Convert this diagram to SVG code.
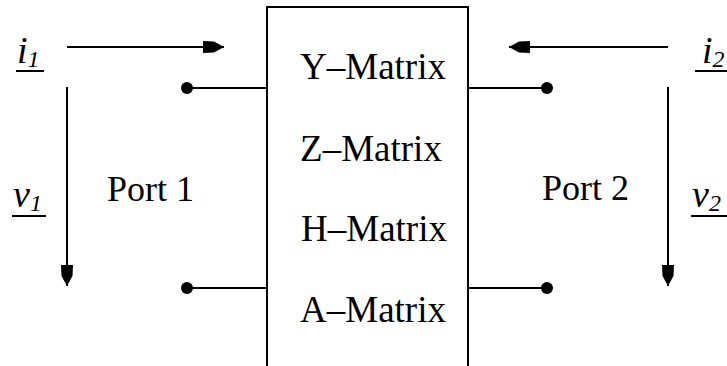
<svg xmlns="http://www.w3.org/2000/svg" width="727" height="366" viewBox="0 0 727 366">
<style>
.ln{stroke:#000;stroke-width:2;fill:none}
.mt{font-family:"Liberation Serif","DejaVu Serif","Times New Roman",serif;font-size:37px;fill:#000;text-anchor:middle}
.pt{font-family:"Liberation Serif","DejaVu Serif","Times New Roman",serif;font-size:36px;fill:#000}
.var{font-family:"Liberation Serif","DejaVu Serif","Times New Roman",serif;font-style:italic;font-size:38px;fill:#000}
.sub{font-size:24px}
.dot{fill:#000}
</style>
<defs>
<marker id="ah" markerUnits="userSpaceOnUse" markerWidth="24" markerHeight="14" refX="21" refY="7" orient="auto">
<path d="M0,1 L11,1.5 L21,7 L11,12.5 L0,13 z" fill="#000"/>
</marker>
</defs>
<rect width="727" height="366" fill="#fff"/>
<g id="network">
<path class="ln" d="M267,370 V7 H468 V370"/>
<text class="mt" x="373" y="79">Y–Matrix</text>
<text class="mt" x="371" y="161">Z–Matrix</text>
<text class="mt" x="374" y="241">H–Matrix</text>
<text class="mt" x="373" y="322">A–Matrix</text>
</g>
<g id="port1"><text class="pt" x="107" y="201">Port 1</text></g>
<g id="port2"><text class="pt" x="542" y="200">Port 2</text></g>
<g id="terminals">
<circle class="dot" cx="187" cy="88" r="6"/>
<circle class="dot" cx="187" cy="288" r="6"/>
<circle class="dot" cx="547" cy="88" r="6"/>
<circle class="dot" cx="547" cy="288" r="6"/>
</g>
<g id="label-i1"><text class="var" x="17" y="63">i<tspan class="sub" dy="4">1</tspan></text><line class="ln" x1="16" y1="71" x2="44" y2="71"/></g>
<g id="label-v1"><text class="var" x="13" y="207">v<tspan class="sub" dy="4">1</tspan></text><line class="ln" x1="12" y1="216" x2="46" y2="216"/></g>
<g id="label-i2"><text class="var" x="702" y="63">i<tspan class="sub" dy="4">2</tspan></text><line class="ln" x1="695" y1="71" x2="727" y2="71"/></g>
<g id="label-v2"><text class="var" x="692" y="207">v<tspan class="sub" dy="4">2</tspan></text><line class="ln" x1="691" y1="216" x2="727" y2="216"/></g>
<g id="connectors">
<line class="ln" x1="187" y1="88" x2="267" y2="88"/>
<line class="ln" x1="187" y1="288" x2="267" y2="288"/>
<line class="ln" x1="468" y1="88" x2="547" y2="88"/>
<line class="ln" x1="468" y1="288" x2="547" y2="288"/>
<line class="ln" x1="67" y1="47" x2="224" y2="47" marker-end="url(#ah)"/>
<line class="ln" x1="668" y1="47" x2="509" y2="47" marker-end="url(#ah)"/>
<line class="ln" x1="67" y1="87" x2="67" y2="286" marker-end="url(#ah)"/>
<line class="ln" x1="668" y1="87" x2="668" y2="286" marker-end="url(#ah)"/>
</g>
</svg>
